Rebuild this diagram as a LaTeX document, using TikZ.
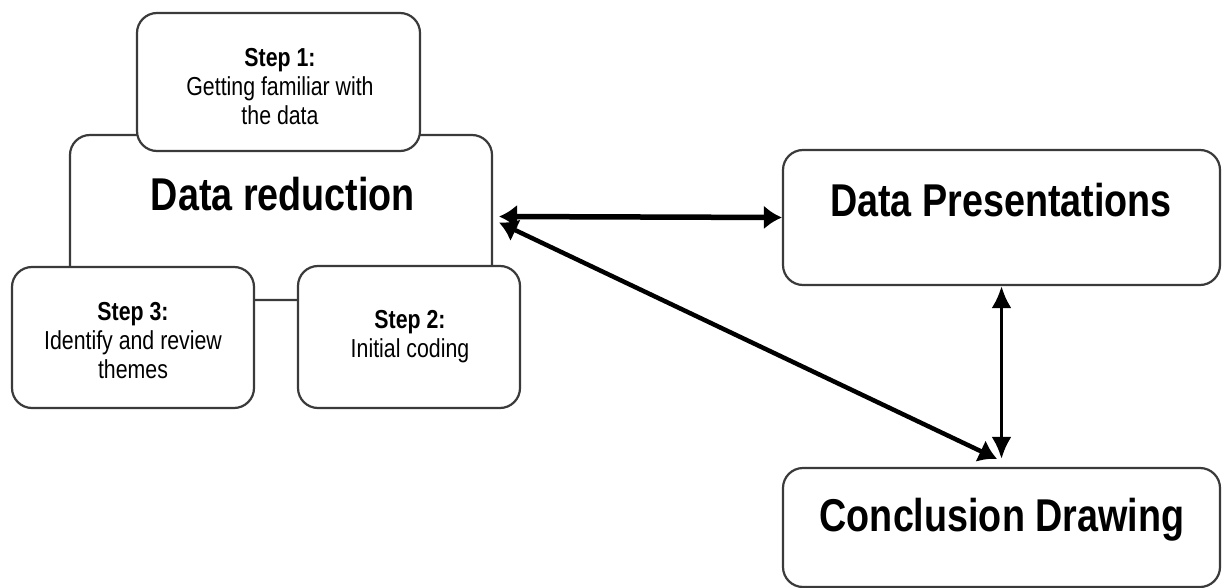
\documentclass[tikz,border=0pt]{standalone}
\usepackage{fontspec}
\newfontfamily\af[FakeStretch=0.82]{Liberation Sans}
\usetikzlibrary{arrows.meta,calc}
\definecolor{boxgray}{HTML}{3A3A3A}
\begin{document}
\begin{tikzpicture}[x=1pt,y=-1pt,
  box/.style={draw=boxgray,line width=2.2pt,rounded corners=20pt,fill=white,inner sep=0pt},
  big/.style={font=\af\bfseries\fontsize{46}{50}\selectfont,inner sep=0pt},
  small/.style={font=\af\fontsize{26}{29}\selectfont,align=center,inner sep=0pt},
  tipA/.tip={Latex[length=18pt,width=24pt]},
  tipB/.tip={Latex[length=22pt,width=20pt]},
  dbl/.style={tipA-tipA,line width=5.5pt},
  dblv/.style={tipB-tipB,line width=3.5pt}
]
\useasboundingbox (0,0) rectangle (1222,588);

% Data reduction cluster
\node[box,minimum width=422pt,minimum height=165pt] (dr) at (281,217.5) {};
\node[box,minimum width=283pt,minimum height=138pt] (s1) at (278.5,82) {};
\node[box,minimum width=242pt,minimum height=141pt] (s3) at (133,337.5) {};
\node[box,minimum width=222pt,minimum height=142pt] (s2) at (409,337) {};

\node[big] (drT) at (283,194) {Data reduction};
\node[small] (s1T) at (280,87) {\textbf{Step 1:}\\Getting familiar with\\the data};
\node[small] (s3T) at (133,341) {\textbf{Step 3:}\\Identify and review\\themes};
\node[small] (s2T) at (410,337) {\textbf{Step 2:}\\Initial coding};

% Right boxes
\node[box,minimum width=437pt,minimum height=135pt] (dp) at (1001.5,217.5) {};
\node[box,minimum width=437pt,minimum height=119pt] (cd) at (1001.5,527.5) {};
\node[big] (dpT) at (1001,200) {Data Presentations};
\node[big] (cdT) at (1002,520) {Conclusion Drawing};

% Arrows
\draw[dbl] ($(dr.east)+(6,-1)$) -- (dp.west);
\draw[dbl,line width=4.5pt] ($(dr.east)+(6,5)$) -- ($(cd.north)+(-4.5,-8)$);
\draw[dblv] (dp.south) -- ($(cd.north)+(0,-8)$);
\end{tikzpicture}
\end{document}
